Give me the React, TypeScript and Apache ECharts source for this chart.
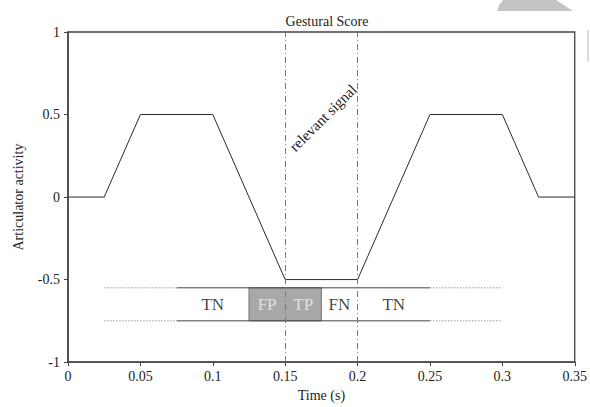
import React, { useEffect, useRef } from "react";
import * as echarts from "echarts";

const signalTimes = [0, 0.025, 0.05, 0.1, 0.15, 0.2, 0.25, 0.3, 0.325, 0.35];
const signalValues = [0, 0, 0.5, 0.5, -0.5, -0.5, 0.5, 0.5, 0, 0];
const markerTimes = [0.15, 0.2];
const bandTop = -0.55;
const bandBottom = -0.75;
const bandSolid = [0.075, 0.25];
const bandDottedLeft = [0.025, 0.075];
const bandDottedRight = [0.25, 0.3];
const shadeRange = [0.125, 0.175];
const boxLabels = ["TN", "FP", "TP", "FN", "TN"];
const boxLabelTimes = [0.1, 0.1375, 0.1625, 0.1875, 0.225];
const boxLabelShaded = [false, true, true, false, false];

const FONT = '"Liberation Serif", "Times New Roman", serif';

export default function App() {
  const ref = useRef<HTMLDivElement>(null);
  useEffect(() => {
    if (!ref.current) return;
    const chart = echarts.init(ref.current, null, { renderer: "svg", width: 590, height: 407 });
    const hline = (x: number[], y: number, type: any, color: string) => ({
      type: "line",
      data: [
        [x[0], y],
        [x[1], y],
      ],
      symbol: "none",
      silent: true,
      lineStyle: { color, width: 1, type },
      z: 3,
    });
    chart.setOption({
      animation: false,
      backgroundColor: "#ffffff",
      textStyle: { fontFamily: FONT },
      title: {
        text: "Gestural Score",
        left: 322,
        top: 9,
        textAlign: "center",
        textStyle: { fontFamily: FONT, fontSize: 14, fontWeight: "normal", color: "#222" },
      },
      grid: {
        left: 68,
        right: 13,
        top: 32,
        bottom: 37,
        show: true,
        borderColor: "#444",
        borderWidth: 1.3,
        backgroundColor: "transparent",
      },
      xAxis: {
        type: "value",
        min: 0,
        max: 0.35,
        interval: 0.05,
        name: "Time (s)",
        nameLocation: "middle",
        nameGap: 21,
        nameTextStyle: { fontFamily: FONT, fontSize: 14, color: "#222" },
        axisLine: { show: true, onZero: false, lineStyle: { color: "#444", width: 1.5 } },
        axisTick: { show: true, length: 4, lineStyle: { color: "#444" } },
        axisLabel: { margin: 7, fontFamily: FONT, fontSize: 14, color: "#222" },
        splitLine: { show: false },
      },
      yAxis: {
        type: "value",
        min: -1,
        max: 1,
        interval: 0.5,
        name: "Articulator activity",
        nameLocation: "middle",
        nameGap: 43,
        nameTextStyle: { fontFamily: FONT, fontSize: 14, color: "#222" },
        axisLine: { show: true, onZero: false, lineStyle: { color: "#444", width: 1.5 } },
        axisTick: { show: true, length: 4, lineStyle: { color: "#444" } },
        axisLabel: { margin: 8, fontFamily: FONT, fontSize: 14, color: "#222" },
        splitLine: { show: false },
      },
      series: [
        {
          type: "line",
          data: signalTimes.map((t, i) => [t, signalValues[i]]),
          symbol: "none",
          lineStyle: { color: "#2a2a2a", width: 1 },
          z: 4,
          markLine: {
            silent: true,
            symbol: "none",
            label: { show: false },
            lineStyle: { color: "#777", width: 1, type: [6, 3, 1, 3] },
            data: markerTimes.map((t) => ({ xAxis: t })),
            z: 6,
          },
          markArea: {
            silent: true,
            itemStyle: { color: "#a8a8a8", borderColor: "#777", borderWidth: 1 },
            data: [
              [
                { coord: [shadeRange[0], bandTop] },
                { coord: [shadeRange[1], bandBottom] },
              ],
            ],
          },
        },
        hline(bandSolid, bandTop, "solid", "#444"),
        hline(bandSolid, bandBottom, "solid", "#444"),
        hline(bandDottedLeft, bandTop, [1.5, 1.5], "#999"),
        hline(bandDottedLeft, bandBottom, [1.5, 1.5], "#999"),
        hline(bandDottedRight, bandTop, [1.5, 1.5], "#999"),
        hline(bandDottedRight, bandBottom, [1.5, 1.5], "#999"),
        {
          type: "scatter",
          silent: true,
          symbolSize: 0,
          z: 7,
          data: boxLabels.map((name, i) => ({
            value: [boxLabelTimes[i], (bandTop + bandBottom) / 2],
            label: {
              show: true,
              position: "inside",
              formatter: name,
              fontFamily: FONT,
              fontSize: 17,
              color: boxLabelShaded[i] ? "#f2f2f2" : "#111",
            },
          })),
        },
      ],
      graphic: [
        {
          type: "text",
          x: 323,
          y: 118,
          rotation: Math.PI / 4,
          style: {
            text: "relevant signal",
            fontFamily: FONT,
            fontSize: 15,
            fill: "#222",
            textAlign: "center",
            textVerticalAlign: "middle",
          },
          z: 10,
        },
        {
          type: "polygon",
          shape: {
            points: [
              [497, 11],
              [499, 5],
              [503, 0],
              [556, 0],
              [573, 11],
            ],
          },
          style: { fill: "#c4c4c4" },
          silent: true,
        },
        {
          type: "rect",
          shape: { x: 587, y: 30, width: 2, height: 32 },
          style: { fill: "#dddddd" },
          silent: true,
        },
      ],
    });
    return () => chart.dispose();
  }, []);
  return (
    <div
      ref={ref}
      style={{ position: "fixed", left: 0, top: 0, width: 590, height: 407 }}
    />
  );
}
